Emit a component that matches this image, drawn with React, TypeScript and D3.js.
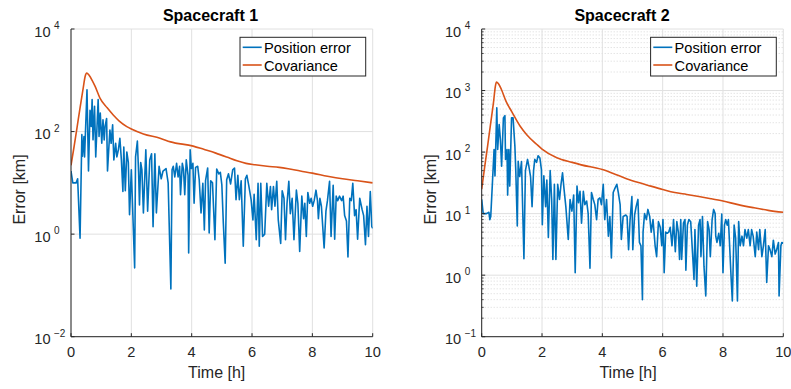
import React from 'react';
import * as d3 from 'd3';

// time [h], error [km]
const sc1Error: [number, number][] = [
  [0, 17], [0.06, 10], [0.17, 10], [0.22, 12], [0.3, 0.83], [0.36, 87], [0.38, 33], [0.43, 80],
  [0.45, 32], [0.53, 650], [0.58, 17], [0.63, 260], [0.67, 126], [0.7, 420], [0.73, 69], [0.78, 310],
  [0.82, 32], [0.9, 420], [0.93, 80], [0.97, 230], [1.02, 59], [1.06, 170], [1.1, 69], [1.13, 126],
  [1.18, 180], [1.21, 17], [1.25, 44], [1.29, 107], [1.33, 59], [1.38, 135], [1.42, 28], [1.48, 59],
  [1.52, 32], [1.57, 44], [1.62, 74], [1.67, 28], [1.72, 6.8], [1.75, 50], [1.8, 7], [1.85, 40],
  [1.9, 25], [1.94, 2.4], [2.0, 18], [2.11, 0.22], [2.14, 32], [2.2, 65], [2.24, 16], [2.27, 3.7],
  [2.31, 25], [2.35, 18], [2.4, 2.6], [2.48, 44], [2.54, 2.8], [2.61, 28], [2.67, 37], [2.72, 1.4],
  [2.78, 37], [2.83, 2.6], [2.92, 21], [2.99, 12], [3.05, 17], [3.15, 19], [3.22, 10], [3.31, 0.085],
  [3.35, 18], [3.39, 21], [3.44, 13], [3.5, 24], [3.55, 13], [3.6, 21], [3.63, 5.9], [3.69, 24],
  [3.73, 18], [3.77, 5.9], [3.82, 28], [3.88, 14], [3.9, 0.43], [3.95, 44], [3.99, 19], [4.04, 24],
  [4.08, 4], [4.13, 20], [4.2, 21], [4.25, 11.5], [4.31, 2.6], [4.37, 9.8], [4.42, 1.2], [4.46, 11],
  [4.53, 19.5], [4.58, 1.05], [4.63, 11], [4.69, 10], [4.77, 0.78], [4.83, 18.6], [4.9, 15], [4.95, 16],
  [5.0, 9.1], [5.05, 1.6], [5.11, 0.27], [5.16, 11.5], [5.22, 15], [5.29, 9.5], [5.36, 18], [5.42, 19.5],
  [5.47, 4.7], [5.53, 14], [5.58, 4.7], [5.64, 11], [5.71, 0.58], [5.78, 12], [5.83, 14], [5.89, 9],
  [5.97, 4.7], [6.03, 1.9], [6.07, 6], [6.14, 0.78], [6.2, 9.8], [6.24, 0.58], [6.29, 9.8], [6.35, 0.9],
  [6.42, 1.0], [6.49, 9.8], [6.55, 3.5], [6.61, 8.5], [6.65, 3], [6.71, 8.5], [6.76, 3.5], [6.82, 10.7],
  [6.87, 1.9], [6.95, 0.66], [7.0, 7], [7.06, 5], [7.11, 0.78], [7.16, 4], [7.22, 10.7], [7.27, 2.5],
  [7.33, 5], [7.39, 0.78], [7.47, 7.2], [7.52, 4], [7.58, 0.46], [7.65, 5.5], [7.71, 2], [7.75, 4],
  [7.8, 0.9], [7.85, 6.5], [7.91, 4], [7.96, 5], [8.01, 3.5], [8.06, 4.5], [8.12, 7.2], [8.17, 4.5],
  [8.2, 2], [8.25, 5], [8.3, 3.5], [8.39, 0.54], [8.45, 2.8], [8.5, 4.5], [8.57, 10.7], [8.62, 0.9],
  [8.69, 9], [8.74, 0.8], [8.79, 5.5], [8.84, 4.5], [8.9, 5.5], [8.97, 4.5], [9.02, 5.5], [9.07, 2.3],
  [9.13, 1.8], [9.18, 0.36], [9.24, 5], [9.29, 4.5], [9.34, 9.8], [9.4, 2.3], [9.45, 3], [9.5, 0.8],
  [9.57, 5], [9.65, 3], [9.7, 2.3], [9.76, 0.62], [9.81, 3.5], [9.86, 0.9], [9.92, 6.8], [9.97, 1.4],
  [10, 1.3],
];

const sc1Cov: [number, number][] = [
  [0, 22], [0.1, 50], [0.2, 120], [0.3, 290], [0.4, 680], [0.47, 1200], [0.52, 1380], [0.6, 1250],
  [0.7, 1000], [0.8, 760], [0.96, 450], [1.2, 290], [1.4, 210], [1.6, 160], [1.85, 125], [2.0, 112],
  [2.4, 90], [2.95, 74], [3.3, 63], [4.05, 52], [4.4, 45], [4.8, 38], [5.16, 32], [5.5, 27],
  [5.8, 24], [6.1, 22.5], [6.5, 21], [6.9, 20], [7.2, 18.8], [7.6, 17], [8.0, 15.5], [8.5, 13.5],
  [9.0, 12], [9.5, 11], [10, 10],
];

const sc2Error: [number, number][] = [
  [0, 17], [0.05, 10], [0.16, 10], [0.24, 10.5], [0.27, 8], [0.3, 9], [0.35, 28], [0.41, 110],
  [0.44, 41], [0.5, 525], [0.53, 110], [0.58, 280], [0.62, 160], [0.66, 59], [0.72, 360], [0.77, 390],
  [0.79, 76], [0.84, 110], [0.86, 20], [0.9, 110], [0.93, 28], [0.99, 360], [1.04, 360], [1.1, 126],
  [1.13, 50], [1.18, 6.3], [1.21, 71], [1.26, 40], [1.32, 70], [1.4, 1.85], [1.45, 50], [1.52, 76],
  [1.56, 60], [1.62, 40], [1.67, 13], [1.72, 50], [1.76, 76], [1.82, 68], [1.87, 87], [1.93, 80],
  [1.98, 52], [2.01, 6.6], [2.06, 41], [2.12, 13], [2.16, 35], [2.21, 4.1], [2.27, 50], [2.32, 17],
  [2.36, 1.8], [2.41, 30], [2.46, 1.8], [2.52, 30], [2.58, 17], [2.63, 30], [2.68, 46], [2.73, 25],
  [2.79, 13], [2.87, 3.8], [2.93, 17], [2.99, 11], [3.05, 20], [3.1, 1.1], [3.16, 28], [3.21, 15],
  [3.26, 23], [3.31, 7], [3.37, 23], [3.42, 14], [3.48, 16], [3.53, 10], [3.59, 1.3], [3.64, 22],
  [3.7, 17], [3.75, 14], [3.81, 8], [3.86, 17], [3.92, 18], [3.97, 14], [4.03, 30], [4.08, 8],
  [4.14, 17], [4.2, 4.3], [4.25, 9], [4.3, 1.9], [4.36, 22], [4.42, 26], [4.48, 30], [4.53, 22],
  [4.59, 14], [4.63, 3.8], [4.69, 9], [4.78, 9.5], [4.82, 9], [4.87, 2.6], [4.92, 8], [4.98, 19],
  [5.01, 2.6], [5.07, 9.5], [5.12, 13], [5.18, 17], [5.23, 3.4], [5.28, 3], [5.33, 0.4], [5.35, 5],
  [5.4, 10], [5.46, 8], [5.51, 11.7], [5.57, 9], [5.62, 5], [5.68, 8], [5.75, 3], [5.8, 2],
  [5.86, 7.4], [5.92, 6], [5.97, 3], [6.01, 8], [6.05, 1.1], [6.1, 5], [6.15, 4.8], [6.2, 5],
  [6.25, 6], [6.31, 3], [6.36, 8], [6.42, 2.4], [6.47, 7.4], [6.52, 5], [6.56, 1.8], [6.6, 8],
  [6.63, 1.8], [6.69, 7], [6.74, 8], [6.77, 1.2], [6.82, 6.5], [6.87, 8], [6.93, 7.4], [6.99, 2.3],
  [7.04, 0.85], [7.07, 5.5], [7.13, 0.66], [7.19, 6.5], [7.24, 8], [7.27, 2], [7.32, 9], [7.37, 1.4],
  [7.43, 0.46], [7.49, 7.4], [7.54, 5.5], [7.58, 2], [7.64, 8], [7.69, 11.7], [7.74, 10], [7.76, 4.3],
  [7.8, 3.4], [7.86, 4.8], [7.91, 3], [7.96, 9.8], [8.0, 1.1], [8.05, 6.5], [8.09, 8], [8.14, 6.5],
  [8.18, 8], [8.23, 2.4], [8.27, 0.9], [8.31, 0.38], [8.37, 6.5], [8.42, 4], [8.48, 0.38], [8.52, 7.4],
  [8.57, 3], [8.63, 4.3], [8.68, 3], [8.73, 5.5], [8.79, 4], [8.84, 5.5], [8.9, 3], [8.95, 5.5],
  [9.0, 4.3], [9.07, 2], [9.12, 5], [9.18, 2.6], [9.22, 5.5], [9.29, 2], [9.34, 3], [9.4, 5.5],
  [9.45, 0.76], [9.51, 3], [9.56, 2.6], [9.62, 2], [9.67, 3.7], [9.73, 2.2], [9.78, 2.6], [9.84, 3.4],
  [9.86, 0.46], [9.92, 3], [9.95, 3.4], [10, 3.3],
];

const sc2Cov: [number, number][] = [
  [0, 25], [0.1, 58], [0.2, 130], [0.3, 300], [0.4, 700], [0.45, 1150], [0.49, 1370], [0.55, 1300],
  [0.65, 1050], [0.8, 680], [1.0, 450], [1.27, 265], [1.5, 190], [1.82, 134], [2.0, 112], [2.49, 81],
  [3.0, 68], [3.3, 62], [4.0, 52], [4.36, 45], [4.8, 37], [5.2, 32], [5.5, 29], [6.0, 24.7],
  [6.4, 22], [6.8, 20.5], [7.2, 19], [7.6, 17.5], [8.0, 16], [8.5, 14], [9.0, 12.5], [9.5, 11.3],
  [10, 10.5],
];

const xTicks = [0, 2, 4, 6, 8, 10];
const sc1YExp = [-2, 0, 2, 4];
const sc2YExp = [-1, 0, 1, 2, 3, 4];
const legendLabels = ['Position error', 'Covariance'];

const BLUE = '#0072BD';
const ORANGE = '#D95319';
const INK = '#262626';
const FONT = '"Liberation Sans", Arial, Helvetica, sans-serif';

function Panel(props: any) {
  const { x0, x1, y0, y1, yExp, minor, title, titleX, labelX, ylabelX, err, cov, id } = props;
  const x = d3.scaleLinear().domain([0, 10]).range([x0, x1]);
  const y = d3.scaleLog().domain([Math.pow(10, yExp[0]), Math.pow(10, yExp[yExp.length - 1])]).range([y1, y0]);
  const line = d3.line<[number, number]>().x(d => x(d[0])).y(d => y(d[1]));
  const smooth = d3.line<[number, number]>().x(d => x(d[0])).y(d => y(d[1])).curve(d3.curveMonotoneX);

  const minorVals: number[] = [];
  if (minor) {
    for (let e = yExp[0]; e < yExp[yExp.length - 1]; e++) {
      for (let m = 2; m <= 9; m++) minorVals.push(m * Math.pow(10, e));
    }
  }
  const lx0 = x1 - 132.7, ly0 = 37.3;

  return (
    <g>
      <defs>
        <clipPath id={id}>
          <rect x={x0} y={y0} width={x1 - x0} height={y1 - y0} />
        </clipPath>
      </defs>
      {minorVals.map((v, i) => (
        <line key={'mg' + i} x1={x0} x2={x1} y1={y(v)} y2={y(v)} stroke="#cfcfcf" strokeWidth={0.8} strokeDasharray="1 2" />
      ))}
      {xTicks.map(t => (
        <line key={'gx' + t} x1={x(t)} x2={x(t)} y1={y0} y2={y1} stroke="#e0e0e0" strokeWidth={1} />
      ))}
      {yExp.map((e: number) => (
        <line key={'gy' + e} x1={x0} x2={x1} y1={y(Math.pow(10, e))} y2={y(Math.pow(10, e))} stroke="#e0e0e0" strokeWidth={1} />
      ))}
      <g clipPath={`url(#${id})`}>
        <path d={smooth(cov) || ''} fill="none" stroke={ORANGE} strokeWidth={1.6} strokeLinejoin="round" />
        <path d={line(err) || ''} fill="none" stroke={BLUE} strokeWidth={1.6} strokeLinejoin="round" />
      </g>
      <line x1={x0} x2={x0} y1={y0} y2={y1} stroke={INK} strokeWidth={1} />
      <line x1={x0} x2={x1} y1={y1} y2={y1} stroke={INK} strokeWidth={1} />
      {xTicks.map(t => (
        <g key={'xt' + t}>
          <line x1={x(t)} x2={x(t)} y1={y1} y2={y1 - 3.5} stroke={INK} />
          <text x={x(t)} y={357} textAnchor="middle" fontSize={14.6} fill={INK}>{t}</text>
        </g>
      ))}
      {minorVals.map((v, i) => (
        <line key={'mt' + i} x1={x0} x2={x0 + 2} y1={y(v)} y2={y(v)} stroke={INK} strokeWidth={0.8} />
      ))}
      {yExp.map((e: number) => {
        const yy = y(Math.pow(10, e));
        return (
          <g key={'yt' + e}>
            <line x1={x0} x2={x0 + 3.5} y1={yy} y2={yy} stroke={INK} />
            <text x={x0 - 20.5} y={yy + 7.5} textAnchor="end" fontSize={14.6} fill={INK}>10</text>
            <text x={x0 - 17} y={yy} textAnchor="start" fontSize={10} fill={INK}>{e < 0 ? '\u2212' + Math.abs(e) : e}</text>
          </g>
        );
      })}
      <text x={titleX} y={21} textAnchor="middle" fontSize={16} fontWeight="bold" fill="#000">{title}</text>
      <text x={labelX} y={378} textAnchor="middle" fontSize={16} fill={INK}>Time [h]</text>
      <text transform={`translate(${ylabelX},189.5) rotate(-90)`} textAnchor="middle" fontSize={16} fill={INK}>Error [km]</text>
      <rect x={lx0} y={ly0} width={125.7} height={38.7} fill="#fff" stroke={INK} strokeWidth={1} />
      {legendLabels.map((lab, i) => (
        <g key={lab}>
          <line x1={lx0 + 2.7} x2={lx0 + 21.7} y1={ly0 + 10 + i * 17.7} y2={ly0 + 10 + i * 17.7} stroke={i === 0 ? BLUE : ORANGE} strokeWidth={1.6} />
          <text x={lx0 + 24} y={ly0 + 16 + i * 17.7} fontSize={14.6} fill="#000">{lab}</text>
        </g>
      ))}
    </g>
  );
}

export default function App() {
  return (
    <svg width={791} height={389} style={{ position: 'absolute', left: 0, top: 0, background: '#fff' }} fontFamily={FONT}>
      <rect width={791} height={389} fill="#fff" />
      <Panel id="c1" x0={71} x1={372.7} y0={29} y1={336.7} yExp={sc1YExp} minor={false}
        title="Spacecraft 1" titleX={210.5} labelX={216.7} ylabelX={25} err={sc1Error} cov={sc1Cov} />
      <Panel id="c2" x0={481.7} x1={783.3} y0={29} y1={336.7} yExp={sc2YExp} minor={true}
        title="Spacecraft 2" titleX={622} labelX={628} ylabelX={436} err={sc2Error} cov={sc2Cov} />
    </svg>
  );
}
